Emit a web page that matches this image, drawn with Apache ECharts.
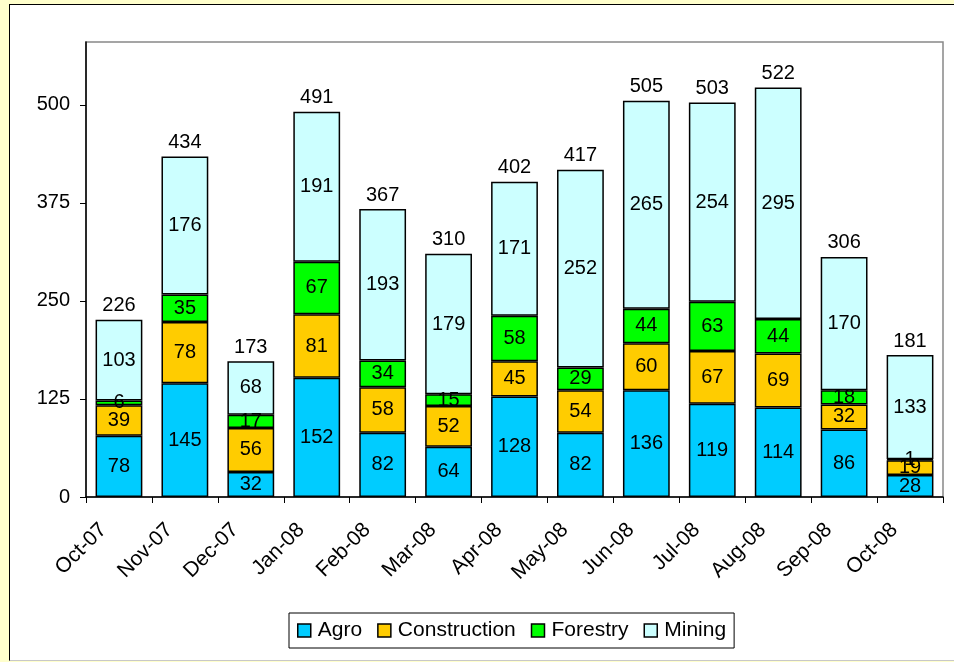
<!DOCTYPE html>
<html>
<head>
<meta charset="UTF-8">
<title>Stacked bars</title>
<script src="https://cdn.jsdelivr.net/npm/echarts@6/dist/echarts.min.js"></script>
<style>
  html, body { margin: 0; padding: 0; background: #FFFFCC; }
  #frame { position: absolute; left: 9px; top: 4px; width: 960px; height: 655px;
           background: #fff; border-left: 1.5px solid #000; border-top: 1.5px solid #000;
           border-bottom: 1.5px solid #c8c8c8; }
  #chart { position: absolute; left: 0; top: 0; width: 954px; height: 662px; }
</style>
</head>
<body>
<div id="frame"></div>
<div id="chart"></div>
<script>
var months = ['Oct-07', 'Nov-07', 'Dec-07', 'Jan-08', 'Feb-08', 'Mar-08', 'Apr-08',
              'May-08', 'Jun-08', 'Jul-08', 'Aug-08', 'Sep-08', 'Oct-08'];
var agro         = [78, 145, 32, 152, 82, 64, 128, 82, 136, 119, 114, 86, 28];
var construction = [39, 78, 56, 81, 58, 52, 45, 54, 60, 67, 69, 32, 19];
var forestry     = [6, 35, 17, 67, 34, 15, 58, 29, 44, 63, 44, 18, 1];
var mining       = [103, 176, 68, 191, 193, 179, 171, 252, 265, 254, 295, 170, 133];
var totals       = [226, 434, 173, 491, 367, 310, 402, 417, 505, 503, 522, 306, 181];
var yTicks       = [0, 125, 250, 375, 500];

var font = 'Liberation Sans, Arial, sans-serif';
var chart = echarts.init(document.getElementById('chart'));

function seg(name, data, color) {
    return {
        name: name,
        type: 'bar',
        stack: 'all',
        data: data,
        barWidth: '71%',
        itemStyle: { color: color, borderColor: '#000', borderWidth: 1.5 },
        label: { show: true, position: 'inside', color: '#000', fontSize: 20, fontFamily: font },
        animation: false
    };
}

var option = {
    backgroundColor: 'transparent',
    textStyle: { fontFamily: font },
    grid: { left: 86, top: 42, right: 11, bottom: 165, show: true,
            borderColor: '#888', borderWidth: 1.5, backgroundColor: '#fff' },
    legend: {
        left: 289, top: 613,
        itemWidth: 13, itemHeight: 13, itemGap: 15,
        icon: 'rect',
        padding: [7, 8, 7, 8],
        borderColor: '#000', borderWidth: 1, backgroundColor: '#fff',
        itemStyle: { borderColor: '#000', borderWidth: 1.5 },
        textStyle: { fontSize: 21, color: '#000', fontFamily: font, padding: [0, 0, 0, 2] },
        data: ['Agro', 'Construction', 'Forestry', 'Mining']
    },
    xAxis: {
        type: 'category',
        data: months,
        axisLine: { lineStyle: { color: '#000', width: 1.5 } },
        axisTick: { show: true, length: 6, lineStyle: { color: '#000' } },
        axisLabel: { rotate: 45, margin: 14, fontSize: 21, color: '#000', fontFamily: font,
                     padding: [0, 22, 0, 0] }
    },
    yAxis: {
        type: 'value',
        min: 0, max: 580,
        axisLine: { show: true, lineStyle: { color: '#000', width: 1.5 } },
        axisTick: { show: true, length: 6, customValues: yTicks, lineStyle: { color: '#000' } },
        axisLabel: { customValues: yTicks, margin: 16, fontSize: 20, color: '#000', fontFamily: font },
        splitLine: { show: false }
    },
    series: [
        seg('Agro', agro, '#00CCFF'),
        seg('Construction', construction, '#FFCC00'),
        seg('Forestry', forestry, '#00FF00'),
        seg('Mining', mining, '#CCFFFF'),
        {
            name: 'Total',
            type: 'scatter',
            data: totals,
            symbolSize: 0,
            silent: true,
            itemStyle: { opacity: 1 },
            label: { show: true, position: 'top', distance: 4, color: '#000', fontSize: 20, fontFamily: font },
            animation: false
        }
    ]
};
chart.setOption(option);
</script>
</body>
</html>
